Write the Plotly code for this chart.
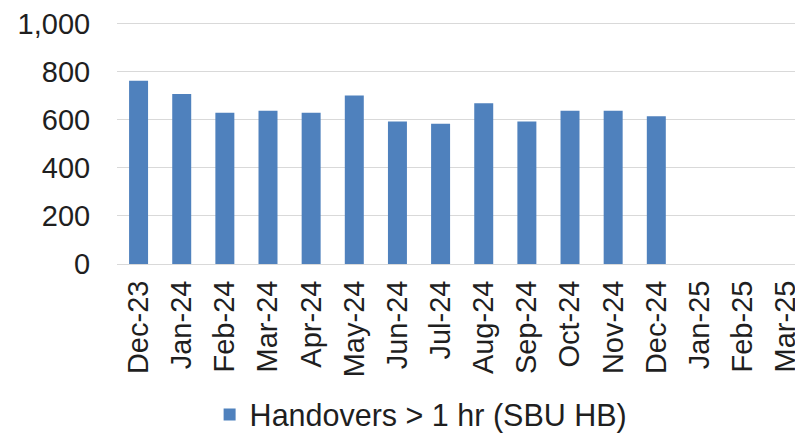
import plotly.graph_objects as go

months = ["Dec-23", "Jan-24", "Feb-24", "Mar-24", "Apr-24", "May-24", "Jun-24", "Jul-24",
          "Aug-24", "Sep-24", "Oct-24", "Nov-24", "Dec-24", "Jan-25", "Feb-25", "Mar-25"]
handovers = [762, 707, 629, 637, 629, 700, 592, 583, 668, 592, 637, 637, 614, None, None, None]
series_name = "Handovers > 1 hr (SBU HB)"
y_ticks = [0, 200, 400, 600, 800, 1000]

FONT = "Liberation Sans, Arial, sans-serif"
TXT = "#1f1f1f"

fig = go.Figure()
fig.add_trace(go.Bar(
    x=months, y=handovers, name=series_name,
    marker=dict(color="#4F81BD", line=dict(width=0)),
    showlegend=True,
))

# page body has an 8px margin, so the figure is sized to fill the rest of the window
fig.update_layout(
    width=795, height=425,
    margin=dict(l=109, r=0, t=13, b=169, autoexpand=False),
    paper_bgcolor="white", plot_bgcolor="white",
    bargap=0.56,
    font=dict(family=FONT, color=TXT),
    showlegend=True,
    legend=dict(
        orientation="h", x=0.135, xanchor="left", y=-0.62, yanchor="middle",
        font=dict(size=30.5, family=FONT, color=TXT),
        bgcolor="rgba(0,0,0,0)",
    ),
    xaxis=dict(
        type="category", categoryorder="array", categoryarray=months,
        tickangle=-90, tickfont=dict(size=29, family=FONT, color=TXT),
        ticks="outside", ticklen=4, tickcolor="rgba(0,0,0,0)",
        showgrid=False, showline=False, zeroline=False,
        range=[-0.5, 15.4], automargin=False,
    ),
    yaxis=dict(
        range=[0, 1010], tickvals=y_ticks, tickformat=",",
        tickfont=dict(size=29, family=FONT, color=TXT),
        ticks="outside", ticklen=20, tickcolor="rgba(0,0,0,0)",
        ticklabeloverflow="allow",
        showgrid=True, gridcolor="#D9D9D9", gridwidth=1.3,
        zeroline=True, zerolinecolor="#D9D9D9", zerolinewidth=1.3,
        showline=False, automargin=False,
    ),
)

fig.write_html("out.html")
